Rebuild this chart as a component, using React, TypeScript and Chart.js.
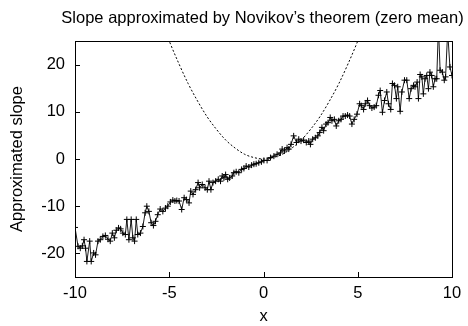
import { useEffect, useRef } from 'react';
import { Chart, registerables } from 'chart.js';

Chart.register(...registerables);

const titleText = 'Slope approximated by Novikov\u2019s theorem (zero mean)';
const xLabel = 'x';
const yLabel = 'Approximated slope';
const xTicks = [-10, -5, 0, 5, 10];
const yTicks = [-20, -10, 0, 10, 20];

const slopeX = [
  -10.0, -9.84, -9.72, -9.61, -9.52, -9.44, -9.37, -9.22, -9.14, -9.01, -8.91, -8.78, -8.66, -8.52,
  -8.39, -8.25, -8.13, -8.02, -7.91, -7.81, -7.69, -7.58, -7.46, -7.33, -7.25, -7.14, -7.02, -6.93,
  -6.84, -6.75, -6.67, -6.53, -6.4, -6.28, -6.19, -6.08, -5.96, -5.84, -5.73, -5.61, -5.48, -5.34,
  -5.2, -5.08, -4.94, -4.81, -4.7, -4.6, -4.48, -4.34, -4.21, -4.09, -3.95, -3.86, -3.74, -3.6,
  -3.47, -3.39, -3.25, -3.1, -2.98, -2.89, -2.79, -2.68, -2.54, -2.4, -2.28, -2.19, -2.1, -2.01,
  -1.9, -1.8, -1.66, -1.57, -1.45, -1.31, -1.16, -1.04, -0.92, -0.78, -0.63, -0.51, -0.39, -0.25,
  -0.11, 0.02, 0.19, 0.37, 0.55, 0.72, 0.9, 0.99, 1.11, 1.25, 1.34, 1.46, 1.6, 1.75, 1.87, 1.99,
  2.13, 2.27, 2.4, 2.49, 2.61, 2.75, 2.88, 2.98, 3.1, 3.19, 3.32, 3.42, 3.54, 3.63, 3.76, 3.86,
  3.99, 4.11, 4.22, 4.34, 4.46, 4.57, 4.69, 4.81, 4.96, 5.1, 5.19, 5.31, 5.4, 5.52, 5.63, 5.75,
  5.87, 5.98, 6.1, 6.19, 6.31, 6.42, 6.54, 6.63, 6.75, 6.84, 6.95, 7.05, 7.12, 7.25, 7.34, 7.48,
  7.6, 7.73, 7.83, 7.96, 8.04, 8.15, 8.22, 8.31, 8.4, 8.48, 8.57, 8.66, 8.75, 8.83, 8.92, 9.01,
  9.1, 9.19, 9.28, 9.37, 9.49, 9.59, 9.66, 9.77, 9.89, 10.0,
];
const slopeY = [
  -14.5, -18.5, -18.9, -18.4, -17.1, -18.9, -21.7, -17.4, -21.7, -19.9, -20.3, -17.4, -17.1, -16.4,
  -16.2, -17.0, -17.4, -15.7, -16.7, -15.1, -14.6, -14.8, -15.7, -16.0, -12.8, -17.1, -12.8, -16.7,
  -17.4, -12.8, -16.0, -15.7, -14.3, -11.4, -10.0, -11.1, -13.5, -14.1, -13.2, -11.8, -10.6, -11.1,
  -10.4, -10.0, -9.1, -8.7, -8.9, -8.8, -8.9, -10.7, -8.2, -8.6, -9.3, -6.8, -7.5, -6.5,
  -5.0, -6.1, -5.4, -6.1, -6.5, -4.7, -6.5, -5.0, -4.7, -4.3, -4.7, -3.6, -4.0, -3.3,
  -4.3, -4.0, -3.6, -2.9, -2.7, -2.9, -2.2, -2.0, -1.5, -1.7, -1.3, -1.1, -1.0, -0.8,
  -0.6, -0.3, -0.3, 0.3, 0.6, 1.0, 1.3, 2.1, 1.7, 2.4, 2.1, 3.1, 4.9, 3.5, 4.2, 3.8,
  4.0, 3.5, 3.8, 3.1, 4.2, 4.5, 4.9, 5.6, 6.7, 6.0, 7.4, 7.7, 8.8, 8.1, 8.4, 7.0,
  8.1, 8.4, 9.1, 9.1, 9.3, 9.1, 7.4, 8.4, 9.5, 11.7, 11.3, 10.5, 11.7, 12.4, 11.3, 10.8,
  11.0, 11.3, 13.5, 14.5, 9.9, 12.4, 14.2, 11.7, 10.5, 16.0, 15.6, 12.8, 15.3, 10.1, 14.2, 16.7,
  16.7, 12.8, 14.9, 15.6, 15.3, 16.3, 12.8, 17.9, 17.4, 13.8, 17.0, 17.7, 14.9, 18.4, 17.7, 15.3,
  17.0, 17.0, 28.0, 18.8, 18.4, 16.7, 17.4, 27.0, 19.5, 17.7,
];

const curveX = [-5.5, -5, -4.5, -4, -3.5, -3, -2.5, -2, -1.5, -1, -0.5, 0, 0.5, 1, 1.5, 2, 2.5, 3, 3.5, 4, 4.5, 5, 5.5];
const curveY = [30.3, 25.0, 20.3, 16.0, 12.3, 9.0, 6.3, 4.0, 2.3, 1.0, 0.3, 0.0, 0.3, 1.0, 2.3, 4.0, 6.3, 9.0, 12.3, 16.0, 20.3, 25.0, 30.3];

const FONT_FAMILY = "'Liberation Sans', Arial, Helvetica, sans-serif";
const FONT_SIZE = 16.5;

const framePlugin = {
  id: 'frame',
  afterDatasetsDraw(chart: any) {
    const { ctx, chartArea } = chart;
    const { left, right, top, bottom } = chartArea;
    const xs = chart.scales.x;
    const ys = chart.scales.y;
    ctx.save();
    ctx.strokeStyle = '#000';
    ctx.lineWidth = 1;
    ctx.strokeRect(Math.round(left) + 0.5, Math.round(top) + 0.5, Math.round(right - left), Math.round(bottom - top));
    ctx.beginPath();
    xs.ticks.forEach((t: any) => {
      const px = Math.round(xs.getPixelForValue(t.value)) + 0.5;
      ctx.moveTo(px, bottom);
      ctx.lineTo(px, bottom - 5);
    });
    ys.ticks.forEach((t: any) => {
      const py = Math.round(ys.getPixelForValue(t.value)) + 0.5;
      ctx.moveTo(left, py);
      ctx.lineTo(left + 5, py);
    });
    ctx.stroke();
    // title centred over the plot area
    ctx.fillStyle = '#000';
    ctx.font = `${FONT_SIZE}px ${FONT_FAMILY}`;
    ctx.textAlign = 'center';
    ctx.textBaseline = 'alphabetic';
    ctx.fillText(titleText, (left + right) / 2 - 1, 22.6);
    ctx.restore();
  },
};

export default function App() {
  const ref = useRef<HTMLCanvasElement | null>(null);

  useEffect(() => {
    document.body.style.margin = '0';
    const canvas = ref.current;
    if (!canvas) return;
    const font = { family: FONT_FAMILY, size: FONT_SIZE, lineHeight: 1.2 };
    const chart = new Chart(canvas, {
      type: 'line',
      data: {
        datasets: [
          {
            label: 'slope',
            data: slopeX.map((x, i) => ({ x, y: slopeY[i] })),
            borderColor: '#1a1a1a',
            borderWidth: 1,
            pointStyle: 'cross',
            pointRadius: 3,
            pointBorderColor: '#000',
            pointBorderWidth: 1,
            pointBackgroundColor: '#000',
            tension: 0,
          },
          {
            label: 'curve',
            data: curveX.map((x, i) => ({ x, y: curveY[i] })),
            borderColor: '#000',
            borderWidth: 1,
            borderDash: [2, 2],
            pointRadius: 0,
            cubicInterpolationMode: 'monotone',
          },
        ],
      },
      options: {
        animation: false,
        responsive: false,
        devicePixelRatio: 1,
        layout: { padding: { left: 0, right: 16, top: 41, bottom: 0 } },
        plugins: {
          legend: { display: false },
          tooltip: { enabled: false },
          title: { display: false },
        },
        scales: {
          x: {
            type: 'linear',
            min: -10,
            max: 10,
            afterBuildTicks: (s: any) => {
              s.ticks = xTicks.map((v) => ({ value: v }));
            },
            afterFit: (s: any) => {
              s.height = 49;
            },
            grid: { display: false, drawTicks: false },
            border: { display: false },
            ticks: { color: '#000', font, padding: 6.6, maxRotation: 0, autoSkip: false, callback: (v: any) => String(v) },
            title: { display: true, text: xLabel, color: '#000', font, padding: { top: 0, bottom: 0 } },
          },
          y: {
            type: 'linear',
            min: -25,
            max: 25,
            afterBuildTicks: (s: any) => {
              s.ticks = yTicks.map((v) => ({ value: v }));
            },
            afterFit: (s: any) => {
              s.width = 75;
            },
            grid: { display: false, drawTicks: false },
            border: { display: false },
            ticks: { color: '#000', font, padding: 10, autoSkip: false, callback: (v: any) => String(v) },
            title: { display: true, text: yLabel, color: '#000', font, padding: { top: 8, bottom: 0 } },
          },
        },
      },
      plugins: [framePlugin],
    });
    return () => chart.destroy();
  }, []);

  return (
    <div style={{ width: 468, height: 326 }}>
      <canvas ref={ref} width={468} height={326} style={{ display: 'block' }} />
    </div>
  );
}
